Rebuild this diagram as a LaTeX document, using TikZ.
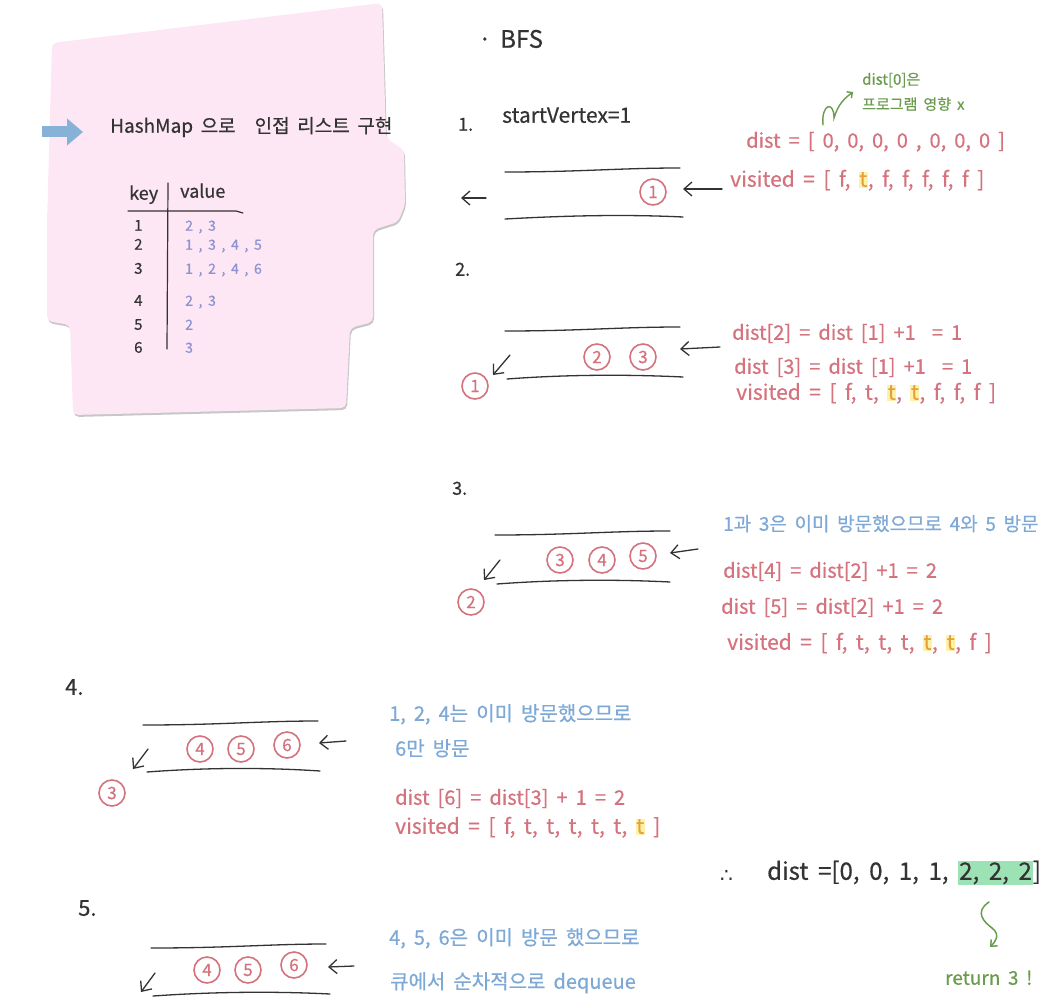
\documentclass[tikz,border=0pt]{standalone}
\usepackage{fontspec}
\setmainfont{Noto Sans CJK KR}[WordSpace=1.8, FakeBold=0.6]
\newfontfamily\symfont{DejaVu Sans}
\usetikzlibrary{arrows.meta,positioning}

\definecolor{inkblack}{HTML}{333333}
\definecolor{inkpink}{HTML}{D4727E}
\definecolor{inkblue}{HTML}{7EA9D6}
\definecolor{inkpurple}{HTML}{8C92D4}
\definecolor{inkgreen}{HTML}{6B9B4E}
\definecolor{notepink}{HTML}{FDE7F4}
\definecolor{hlyellow}{HTML}{FFF2A8}
\definecolor{hlorange}{HTML}{E3A03C}
\definecolor{hlgreen}{HTML}{9DE2B4}
\definecolor{arrowblue}{HTML}{85B2D6}

\newcommand\hlt[1]{{\setlength{\fboxsep}{0.5pt}\colorbox{hlyellow}{\textcolor{hlorange}{#1}}}}
\newcommand\hlg[1]{{\setlength{\fboxsep}{1pt}\colorbox{hlgreen}{#1}}}
\newcommand\notepath{(52,43) -- (382,3) -- (386,138) -- (404,150) -- (405,205) -- (398,222) -- (373,230) -- (373,322) -- (350,328) -- (346,408) -- (73,415) -- (70,325) -- (47,321) -- (47,222) -- cycle}

\begin{document}
\begin{tikzpicture}[
x=1pt, y=-1pt,
txt/.style={anchor=west, inner sep=0pt, text height=0.75em, text depth=0.2em, text=inkblack},
pinktxt/.style={txt, text=inkpink, font=\fontsize{20}{22}\selectfont},
bluetxt/.style={txt, text=inkblue, font=\fontsize{19}{22}\selectfont},
greentxt/.style={txt, text=inkgreen},
stepnum/.style={txt, font=\fontsize{18}{20}\selectfont},
elem/.style={circle, draw=inkpink, line width=1.6pt, text=inkpink, minimum size=26pt, inner sep=0pt, font=\fontsize{17}{17}\selectfont},
qline/.style={draw=inkblack, line width=1.3pt, line cap=round},
harrow/.style={-{Straight Barb[length=8pt,width=14pt]}, draw=inkblack, line width=1.3pt, line cap=round}
]
\useasboundingbox (0,0) rectangle (1043,1000);

% note with the adjacency list
\fill[black!22, rounded corners=5pt, shift={(1,2)}] \notepath;
\fill[notepink, rounded corners=5pt] \notepath;
\coordinate (bluetail) at (42,132);
\coordinate (bluehead) at (83,132);
\draw[arrowblue, line width=11pt, -{Triangle[length=16pt,width=26pt]}] (bluetail) -- (bluehead);
\node[txt, font=\fontsize{19}{22}\selectfont] (title) at (110,130) {HashMap 으로\quad 인접 리스트 구현};

\node[txt, font=\fontsize{18}{18}\selectfont] (keyhd) at (129,197) {key};
\node[txt, font=\fontsize{18}{18}\selectfont] (valhd) at (180,195) {value};
\draw[line width=1.2pt, inkblack, line cap=round] (128,211) -- (236,211) to[bend left=10] (243,213);
\draw[line width=1.2pt, inkblack, line cap=round] (168,183) -- (167,349);
\foreach \k/\yy/\v in {1/228/{2 , 3}, 2/247/{1 , 3 , 4 , 5}, 3/271/{1 , 2 , 4 , 6}, 4/303/{2 , 3}, 5/327/{2}, 6/350/{3}}{
  \node[txt, font=\fontsize{15}{15}\selectfont] (key\k) at (134,\yy) {\k};
  \node[txt, text=inkpurple, font=\fontsize{14}{14}\selectfont] (val\k) at (185,\yy) {\v};
}

% BFS
\node[txt, font=\fontsize{24}{26}\selectfont] (bfsdot) at (478,45) {·};
\node[txt, font=\fontsize{24}{26}\selectfont] (bfs) at (500,45) {BFS};

% step 1
\node[stepnum] (n1) at (458,128) {1.};
\node[txt, font=\fontsize{21}{22}\selectfont] (start) at (502,120) {startVertex=1};
\node[greentxt, font=\fontsize{15}{16}\selectfont] (note0a) at (862,82) {dist[0]은};
\node[greentxt, font=\fontsize{15}{16}\selectfont] (note0b) at (862,107) {프로그램 영향 x};
\draw[inkgreen, line width=1.4pt, line cap=round, -{Straight Barb[length=4pt,width=8pt]}] (823,125) .. controls (821,104) and (834,100) .. (834,118) .. controls (838,104) and (845,98) .. (853,92);
\node[pinktxt] (dist1) at (746,145) {dist = [ 0, 0, 0, 0 , 0, 0, 0 ]};
\node[pinktxt, font=\fontsize{21}{22}\selectfont] (vis1) at (730,184) {visited = [ f, \hlt{t}, f, f, f, f, f ]};
\draw[qline] (505,172) .. controls (580,172) and (620,168) .. (680,168);
\draw[qline] (505,219) .. controls (560,216) and (620,214) .. (683,217);
\node[elem] (q1a) at (653,192) {1};
\coordinate (q1in) at (722,189);
\coordinate (q1ine) at (683,189);
\coordinate (q1out) at (486,198);
\coordinate (q1oute) at (461,198);
\draw[harrow] (q1in) -- (q1ine);
\draw[harrow] (q1out) -- (q1oute);

% step 2
\node[stepnum] (n2) at (455,273) {2.};
\node[pinktxt] (dist2a) at (732,337) {dist[2] = dist [1] +1 \ = 1};
\node[pinktxt] (dist2b) at (734,371) {dist [3] = dist [1] +1 \ = 1};
\node[pinktxt, font=\fontsize{21}{22}\selectfont] (vis2) at (736,397) {visited = [ f, t, \hlt{t}, \hlt{t}, f, f, f ]};
\draw[qline] (505,331) .. controls (580,331) and (620,327) .. (680,327);
\draw[qline] (507,379) .. controls (560,375) and (620,374) .. (683,377);
\node[elem] (q2a) at (597,357) {2};
\node[elem] (q2b) at (643,357) {3};
\node[elem] (q2done) at (475,386) {1};
\coordinate (q2in) at (720,347);
\coordinate (q2ine) at (680,349);
\coordinate (q2out) at (510,355);
\coordinate (q2oute) at (493,375);
\draw[harrow] (q2in) -- (q2ine);
\draw[harrow] (q2out) -- (q2oute);

% step 3
\node[stepnum] (n3) at (452,492) {3.};
\node[bluetxt] (why3) at (723,528) {1과 3은 이미 방문했으므로 4와 5 방문};
\node[pinktxt] (dist3a) at (723,575) {dist[4] = dist[2] +1 = 2};
\node[pinktxt] (dist3b) at (721,611) {dist [5] = dist[2] +1 = 2};
\node[pinktxt, font=\fontsize{21}{22}\selectfont] (vis3) at (727,647) {visited = [ f, t, t, t, \hlt{t}, \hlt{t}, f ]};
\draw[qline] (495,535) .. controls (570,535) and (610,531) .. (670,531);
\draw[qline] (497,584) .. controls (550,580) and (610,579) .. (670,582);
\node[elem] (q3a) at (560,560) {3};
\node[elem] (q3b) at (602,560) {4};
\node[elem] (q3c) at (643,556) {5};
\node[elem] (q3done) at (471,602) {2};
\coordinate (q3in) at (698,549);
\coordinate (q3ine) at (670,553);
\coordinate (q3out) at (500,560);
\coordinate (q3oute) at (484,580);
\draw[harrow] (q3in) -- (q3ine);
\draw[harrow] (q3out) -- (q3oute);

% step 4
\node[stepnum, font=\fontsize{22}{24}\selectfont] (n4) at (65,692) {4.};
\node[bluetxt, font=\fontsize{20}{22}\selectfont] (why4a) at (389,718) {1, 2, 4는 이미 방문했으므로};
\node[bluetxt, font=\fontsize{20}{22}\selectfont] (why4b) at (395,753) {6만 방문};
\node[pinktxt] (dist4) at (395,802) {dist [6] = dist[3] + 1 = 2};
\node[pinktxt, font=\fontsize{21}{22}\selectfont] (vis4) at (395,831) {visited = [ f, t, t, t, t, t, \hlt{t} ]};
\draw[qline] (143,725) .. controls (220,725) and (260,721) .. (318,721);
\draw[qline] (147,772) .. controls (200,768) and (260,767) .. (320,771);
\node[elem] (q4a) at (200,749) {4};
\node[elem] (q4b) at (241,749) {5};
\node[elem] (q4c) at (287,745) {6};
\node[elem] (q4done) at (112,793) {3};
\coordinate (q4in) at (346,741);
\coordinate (q4ine) at (319,743);
\coordinate (q4out) at (148,749);
\coordinate (q4oute) at (133,769);
\draw[harrow] (q4in) -- (q4ine);
\draw[harrow] (q4out) -- (q4oute);

% step 5
\node[stepnum, font=\fontsize{22}{24}\selectfont] (n5) at (78,913) {5.};
\node[bluetxt, font=\fontsize{20}{22}\selectfont] (why5a) at (389,942) {4, 5, 6은 이미 방문 했으므로};
\node[bluetxt, font=\fontsize{20}{22}\selectfont] (why5b) at (390,986) {큐에서 순차적으로 dequeue};
\draw[qline] (151,948) .. controls (230,948) and (270,944) .. (326,944);
\draw[qline] (153,996) .. controls (210,992) and (270,991) .. (330,994);
\node[elem] (q5a) at (207,970) {4};
\node[elem] (q5b) at (248,970) {5};
\node[elem] (q5c) at (294,965) {6};
\coordinate (q5in) at (354,966);
\coordinate (q5ine) at (328,967);
\coordinate (q5out) at (155,973);
\coordinate (q5oute) at (141,992);
\draw[harrow] (q5in) -- (q5ine);
\draw[harrow] (q5out) -- (q5oute);

% result
\node[txt, font=\symfont\fontsize{20}{22}\selectfont] (thus) at (720,880) {∴};
\node[txt, font=\fontsize{24}{26}\selectfont] (result) at (767,877) {dist =[0, 0, 1, 1, \hlg{2, 2, 2}]};
\draw[inkgreen, line width=1.5pt, line cap=round, -{Straight Barb[length=5pt,width=9pt]}] (989,902) .. controls (974,912) and (984,922) .. (992,928) .. controls (1001,935) and (995,942) .. (990,947);
\node[greentxt, font=\fontsize{19}{20}\selectfont] (ret) at (945,982) {return 3 !};
\end{tikzpicture}
\end{document}
